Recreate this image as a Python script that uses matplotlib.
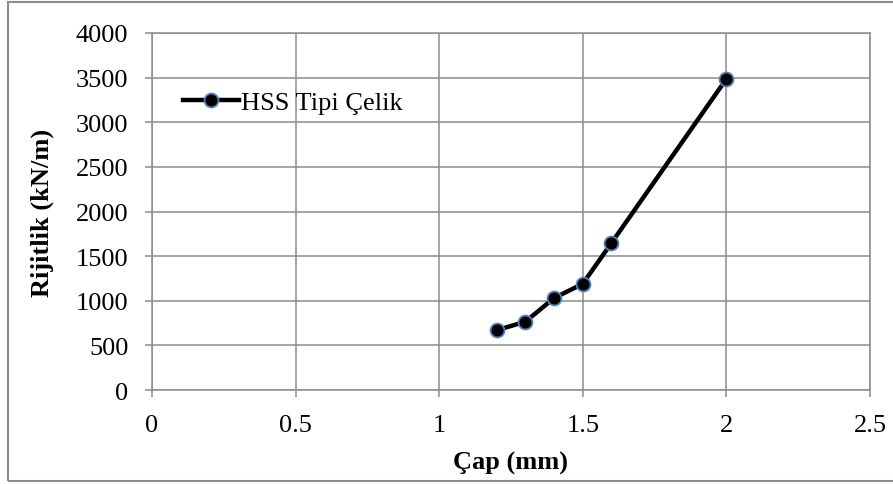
import matplotlib.pyplot as plt
from matplotlib.patches import Rectangle

plt.rcParams['font.family'] = ['Liberation Serif', 'DejaVu Serif']

cap = [1.2, 1.3, 1.4, 1.5, 1.6, 2.0]
rijitlik = [670, 765, 1030, 1190, 1648, 3485]
x_ticks = [0, 0.5, 1, 1.5, 2, 2.5]
x_labels = ['0', '0.5', '1', '1.5', '2', '2.5']
y_ticks = [0, 500, 1000, 1500, 2000, 2500, 3000, 3500, 4000]

fig = plt.figure(figsize=(8.93, 4.85), dpi=100)
ax = fig.add_axes([0.1702, 0.1938, 0.8040, 0.7361])

ax.plot(cap, rijitlik, color='black', lw=3.2, marker='o', markersize=10,
        markerfacecolor='black', markeredgecolor='#4F81BD', markeredgewidth=1.3,
        label='HSS Tipi Çelik', zorder=3)

ax.set_xlim(0, 2.5)
ax.set_ylim(0, 4000)
ax.set_xticks(x_ticks)
ax.set_xticklabels(x_labels)
ax.set_yticks(y_ticks)
ax.grid(True, color='#8c8c8c', lw=1.1)
ax.set_axisbelow(True)
for s in ax.spines.values():
    s.set_color('#8c8c8c')
    s.set_linewidth(1.1)
ax.tick_params(direction='out', length=5, width=1.1, color='#8c8c8c',
               labelsize=19)
ax.tick_params(axis='y', pad=12)
ax.tick_params(axis='x', pad=12)

ax.set_xlabel('Çap (mm)', fontsize=19, fontweight='bold', labelpad=11)
ax.set_ylabel('Rijitlik (kN/m)', fontsize=19, fontweight='bold', labelpad=16)

ax.legend(loc='center left', bbox_to_anchor=(0.029, 0.805), frameon=False,
          fontsize=19, handlelength=2.1, handletextpad=0.1, borderaxespad=0)

# outer chart border (right edge runs off the image)
fig.patches.append(Rectangle((8 / 893, 3 / 485), 900 / 893, 479 / 485,
                             transform=fig.transFigure, fill=False,
                             edgecolor='#8c8c8c', lw=1.5))

fig.savefig('out.png', dpi=100)
